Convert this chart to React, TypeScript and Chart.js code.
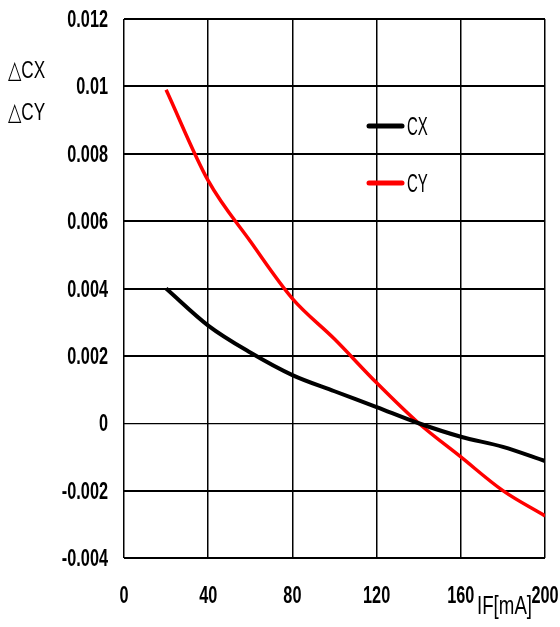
import React, { useEffect, useRef } from "react";
import { Chart, registerables } from "chart.js";

Chart.register(...registerables);

const xValues = [20, 40, 60, 80, 100, 120, 140, 160, 180, 200];
const cxValues = [0.004, 0.0029, 0.0021, 0.00143, 0.00095, 0.00048, 0.0, -0.0004, -0.0007, -0.00112];
const cyValues = [0.0099, 0.0072, 0.0054, 0.0037, 0.0025, 0.0012, 0.0, -0.001, -0.002, -0.00275];

const seriesNames = ["CX", "CY"];
const seriesColors = ["#000000", "#ff0000"];

const xTickValues = [0, 40, 80, 120, 160, 200];
const xTickLabels = ["0", "40", "80", "120", "160", "200"];
const yTickValues = [-0.004, -0.002, 0, 0.002, 0.004, 0.006, 0.008, 0.01, 0.012];
const yTickLabels = ["-0.004", "-0.002", "0", "0.002", "0.004", "0.006", "0.008", "0.01", "0.012"];

const yTitleLines = ["△CX", "△CY"];
const xTitle = "IF[mA]";

const FONT = "'Liberation Sans', Arial, sans-serif";

function drawText(
  ctx: CanvasRenderingContext2D,
  text: string,
  x: number,
  y: number,
  font: string,
  sx: number,
  sy: number,
  align: CanvasTextAlign,
  baseline: CanvasTextBaseline
) {
  ctx.save();
  ctx.translate(x, y);
  ctx.scale(sx, sy);
  ctx.font = font;
  ctx.fillStyle = "#000";
  ctx.textAlign = align;
  ctx.textBaseline = baseline;
  ctx.fillText(text, 0, 0);
  ctx.restore();
}

const decorPlugin = {
  id: "decor",
  afterDraw(chart: any) {
    const ctx: CanvasRenderingContext2D = chart.ctx;
    const xs = chart.scales.x;
    const ys = chart.scales.y;
    const tickFont = `bold 22px ${FONT}`;
    // tick labels
    xTickValues.forEach((v, i) => {
      drawText(ctx, xTickLabels[i], xs.getPixelForValue(v), 603, tickFont, 0.74, 1.06, "center", "alphabetic");
    });
    yTickValues.forEach((v, i) => {
      drawText(ctx, yTickLabels[i], 108, ys.getPixelForValue(v) + 8, tickFont, 0.74, 1.06, "right", "alphabetic");
    });
    const font = `22px ${FONT}`;
    // y-axis title
    drawText(ctx, yTitleLines[0], 8, 78, font, 0.78, 1.12, "left", "alphabetic");
    drawText(ctx, yTitleLines[1], 8, 120, font, 0.78, 1.12, "left", "alphabetic");
    // x-axis title
    drawText(ctx, xTitle, 477, 614, font, 0.85, 1.15, "left", "alphabetic");
    // legend
    const ds = chart.data.datasets;
    const rows = [126, 183];
    ds.forEach((d: any, i: number) => {
      const y = rows[i];
      ctx.save();
      ctx.strokeStyle = d.borderColor;
      ctx.lineWidth = 5;
      ctx.lineCap = "round";
      ctx.beginPath();
      ctx.moveTo(369, y);
      ctx.lineTo(402, y);
      ctx.stroke();
      ctx.restore();
      drawText(ctx, d.label, 407, y + 9, `22px ${FONT}`, 0.68, 1.14, "left", "alphabetic");
    });
  },
};

export default function App() {
  const ref = useRef<HTMLCanvasElement | null>(null);
  useEffect(() => {
    if (!ref.current) return;
    const chart = new Chart(ref.current, {
      type: "line",
      data: {
        datasets: [
          {
            label: seriesNames[0],
            data: xValues.map((x, i) => ({ x, y: cxValues[i] })),
            borderColor: seriesColors[0],
            borderWidth: 4,
            pointRadius: 0,
            cubicInterpolationMode: "monotone",
            fill: false,
          },
          {
            label: seriesNames[1],
            data: xValues.map((x, i) => ({ x, y: cyValues[i] })),
            borderColor: seriesColors[1],
            borderWidth: 3.5,
            pointRadius: 0,
            cubicInterpolationMode: "monotone",
            fill: false,
          },
        ],
      },
      options: {
        animation: false,
        responsive: false,
        devicePixelRatio: 1,
        layout: { padding: { top: 19, right: 15, left: 0, bottom: 0 } },
        plugins: {
          legend: { display: false },
          tooltip: { enabled: false },
        },
        scales: {
          x: {
            type: "linear",
            min: 0,
            max: 200,
            afterFit: (s: any) => {
              s.height = 69;
              s.paddingLeft = 0;
              s.paddingRight = 0;
              s.paddingTop = 0;
              s.paddingBottom = 0;
            },
            afterBuildTicks: (s: any) => {
              s.ticks = xTickValues.map((v) => ({ value: v }));
            },
            ticks: { display: false },
            grid: { color: "#000", lineWidth: 1.5, drawTicks: false },
            border: { display: false },
          },
          y: {
            type: "linear",
            min: -0.004,
            max: 0.012,
            afterFit: (s: any) => {
              s.width = 124;
              s.paddingLeft = 0;
              s.paddingRight = 0;
              s.paddingTop = 0;
              s.paddingBottom = 0;
            },
            afterBuildTicks: (s: any) => {
              s.ticks = yTickValues.map((v) => ({ value: v }));
            },
            ticks: { display: false },
            grid: {
              color: "#000",
              drawTicks: false,
              lineWidth: (c: any) => (c.tick && Math.abs(c.tick.value) < 1e-9 ? 1.2 : 2),
            },
            border: { display: false },
          },
        },
      },
      plugins: [decorPlugin],
    } as any);
    return () => chart.destroy();
  }, []);
  return (
    <div style={{ position: "absolute", left: 0, top: 0, width: 560, height: 627, background: "#fff" }}>
      <canvas ref={ref} width={560} height={627} style={{ display: "block" }} />
    </div>
  );
}
